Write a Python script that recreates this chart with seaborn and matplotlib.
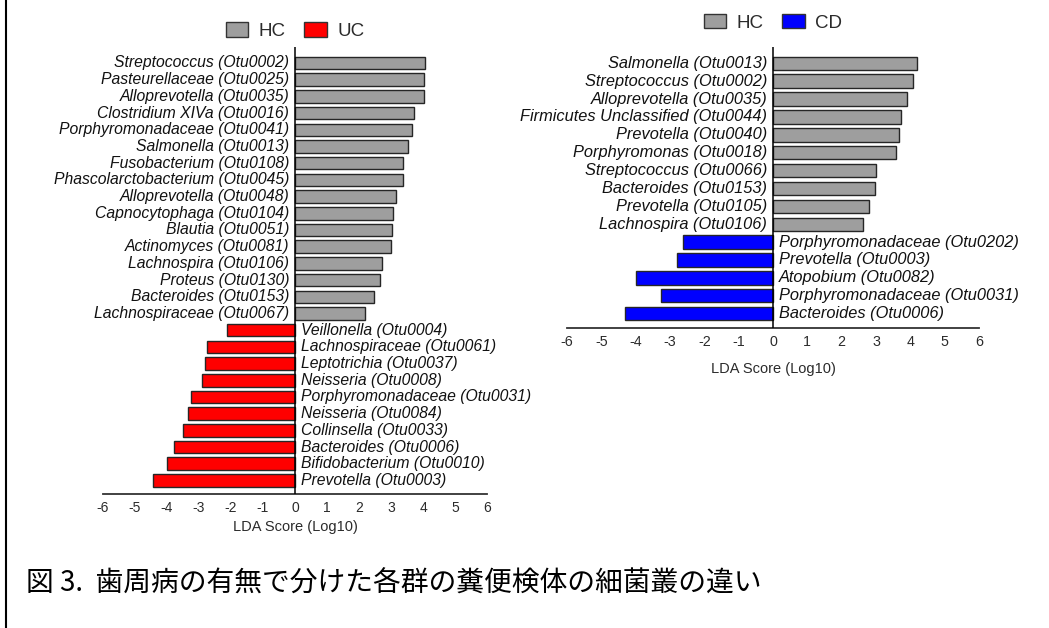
import matplotlib
matplotlib.use("Agg")
import matplotlib.pyplot as plt
import seaborn as sns
import pandas as pd
from matplotlib.patches import Patch
from matplotlib.lines import Line2D

sns.set_style("white")
plt.rcParams["font.family"] = ["Liberation Sans", "DejaVu Sans"]
plt.rcParams["axes.unicode_minus"] = False

# ---- Ulcerative colitis vs healthy controls ----
uc_hc_taxa = [
    "Streptococcus (Otu0002)", "Pasteurellaceae (Otu0025)", "Alloprevotella (Otu0035)",
    "Clostridium XIVa (Otu0016)", "Porphyromonadaceae (Otu0041)", "Salmonella (Otu0013)",
    "Fusobacterium (Otu0108)", "Phascolarctobacterium (Otu0045)", "Alloprevotella (Otu0048)",
    "Capnocytophaga (Otu0104)", "Blautia (Otu0051)", "Actinomyces (Otu0081)",
    "Lachnospira (Otu0106)", "Proteus (Otu0130)", "Bacteroides (Otu0153)",
    "Lachnospiraceae (Otu0067)",
]
uc_hc_lda = [4.06, 4.01, 4.01, 3.70, 3.66, 3.53, 3.38, 3.38, 3.16, 3.07, 3.02, 2.99,
             2.71, 2.66, 2.47, 2.17]
uc_taxa = [
    "Veillonella (Otu0004)", "Lachnospiraceae (Otu0061)", "Leptotrichia (Otu0037)",
    "Neisseria (Otu0008)", "Porphyromonadaceae (Otu0031)", "Neisseria (Otu0084)",
    "Collinsella (Otu0033)", "Bacteroides (Otu0006)", "Bifidobacterium (Otu0010)",
    "Prevotella (Otu0003)",
]
uc_lda = [-2.12, -2.75, -2.81, -2.89, -3.24, -3.34, -3.49, -3.76, -3.98, -4.43]

# ---- Crohn's disease vs healthy controls ----
cd_hc_taxa = [
    "Salmonella (Otu0013)", "Streptococcus (Otu0002)", "Alloprevotella (Otu0035)",
    "Firmicutes Unclassified (Otu0044)", "Prevotella (Otu0040)", "Porphyromonas (Otu0018)",
    "Streptococcus (Otu0066)", "Bacteroides (Otu0153)", "Prevotella (Otu0105)",
    "Lachnospira (Otu0106)",
]
cd_hc_lda = [4.20, 4.07, 3.91, 3.73, 3.68, 3.59, 3.00, 2.96, 2.79, 2.63]
cd_taxa = [
    "Porphyromonadaceae (Otu0202)", "Prevotella (Otu0003)", "Atopobium (Otu0082)",
    "Porphyromonadaceae (Otu0031)", "Bacteroides (Otu0006)",
]
cd_lda = [-2.63, -2.81, -3.99, -3.26, -4.32]

x_ticks = [-6, -5, -4, -3, -2, -1, 0, 1, 2, 3, 4, 5, 6]
x_label = "LDA Score (Log10)"
caption = "図 3.  歯周病の有無で分けた各群の糞便検体の細菌叢の違い"

GRAY = "#9e9e9e"
EDGE = "#262626"
TEXT = "#2b2b2b"

W, H = 1049, 628
fig = plt.figure(figsize=(W / 100, H / 100), dpi=100)


def lefse_panel(rect, hc_taxa, hc_lda, dz_taxa, dz_lda, dz_name, dz_color,
                ylim, label_fs, tick_fs, labelpad, legend_y):
    ax = fig.add_axes(rect)
    df = pd.DataFrame({
        "taxon": hc_taxa + dz_taxa,
        "lda": hc_lda + dz_lda,
        "group": ["HC"] * len(hc_taxa) + [dz_name] * len(dz_taxa),
    })
    sns.barplot(data=df, x="lda", y="taxon", hue="group", orient="h",
                palette={"HC": GRAY, dz_name: dz_color}, dodge=False,
                saturation=1, width=0.75, errorbar=None, edgecolor=EDGE,
                linewidth=1.0, legend=False, ax=ax)

    # taxon names sit next to the zero line, on the side opposite the bar
    for i, (name, val) in enumerate(zip(df["taxon"], df["lda"])):
        if val >= 0:
            ax.annotate(name, (0, i), xytext=(-4.2, 0), textcoords="offset points",
                        ha="right", va="center", style="italic",
                        fontsize=label_fs, color="#111111")
        else:
            ax.annotate(name, (0, i), xytext=(4.5, 0), textcoords="offset points",
                        ha="left", va="center", style="italic",
                        fontsize=label_fs, color="#111111")

    ax.axvline(0, color="black", lw=1.1, zorder=5)
    ax.set_xlim(-6, 6)
    ax.set_ylim(*ylim)
    ax.set_xticks(x_ticks)
    ax.set_yticks([])
    ax.set_ylabel("")
    ax.set_xlabel(x_label, fontsize=10.5, color=TEXT, labelpad=labelpad)
    ax.tick_params(axis="x", length=0, pad=4.5, labelsize=tick_fs, labelcolor=TEXT)
    for side in ("left", "right", "top"):
        ax.spines[side].set_visible(False)
    ax.spines["bottom"].set_color("#333333")
    ax.spines["bottom"].set_linewidth(1.3)
    ax.patch.set_alpha(0)

    handles = [Patch(facecolor=GRAY, edgecolor="#333333", lw=1.0, label="HC"),
               Patch(facecolor=dz_color, edgecolor="#333333", lw=1.0, label=dz_name)]
    zx = ax.transData.transform((0, 0))[0]
    fig.legend(handles=handles, loc="center",
               bbox_to_anchor=(zx / W, 1 - legend_y / H), bbox_transform=fig.transFigure,
               ncol=2, frameon=False, fontsize=13.5, labelcolor=TEXT,
               handlelength=1.2, handleheight=0.8, handletextpad=0.55,
               columnspacing=1.0, borderpad=0)
    return ax


lefse_panel([102.7 / W, 1 - 494.3 / H, 384.6 / W, (494.3 - 47.3) / H],
            uc_hc_taxa, uc_hc_lda, uc_taxa, uc_lda, "UC", "#ff0000",
            ylim=(25.83, -0.94), label_fs=11.3, tick_fs=10, labelpad=4.0,
            legend_y=31)

lefse_panel([567 / W, 1 - 328.3 / H, 412 / W, (328.3 - 47.2) / H],
            cd_hc_taxa, cd_hc_lda, cd_taxa, cd_lda, "CD", "#0000ff",
            ylim=(14.82, -0.9), label_fs=11.8, tick_fs=10.3, labelpad=10.0,
            legend_y=22.8)

# caption and the frame line on the left edge
fig.text(26 / W, 1 - 584 / H, caption, ha="left", va="center", fontsize=20,
         family=["Noto Sans CJK JP", "DejaVu Sans"], color="black")
fig.add_artist(Line2D([5.5 / W, 5.5 / W], [0, 1], transform=fig.transFigure,
                      color="black", lw=1.5))

fig.savefig("out.png", dpi=100)
